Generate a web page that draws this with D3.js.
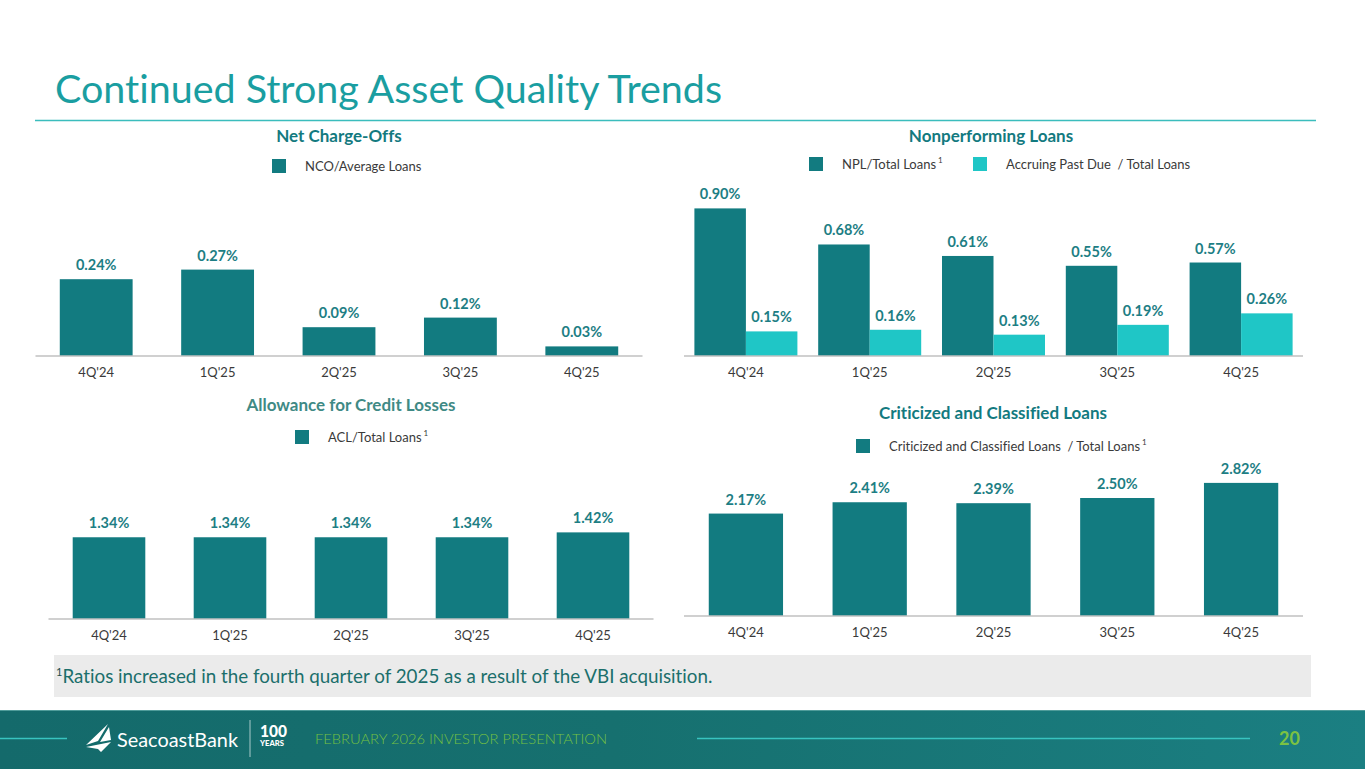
<!DOCTYPE html>
<html>
<head>
<meta charset="utf-8">
<script src="https://cdn.jsdelivr.net/npm/d3@7"></script>
<style>
  html, body { margin: 0; padding: 0; background: #ffffff; }
  svg { display: block; font-family: Lato, "Open Sans", sans-serif; font-variant-ligatures: none; font-feature-settings: "liga" 0, "clig" 0; }
</style>
</head>
<body>
<svg id="chart" width="1365" height="769"></svg>
<script>
// ---------------- DATA ----------------
const categories = ["4Q'24", "1Q'25", "2Q'25", "3Q'25", "4Q'25"];
const ncoValues = [0.24, 0.27, 0.09, 0.12, 0.03];
const nplValues = [0.90, 0.68, 0.61, 0.55, 0.57];
const accruingPastDueValues = [0.15, 0.16, 0.13, 0.19, 0.26];
const aclValues = [1.34, 1.34, 1.34, 1.34, 1.42];
const criticizedValues = [2.17, 2.41, 2.39, 2.50, 2.82];

const pageTitle = "Continued Strong Asset Quality Trends";
const footnoteText = "Ratios increased in the fourth quarter of 2025 as a result of the VBI acquisition.";
const footerText = "FEBRUARY 2026 INVESTOR PRESENTATION";
const pageNumber = "20";

// ---------------- STYLE ----------------
const DARK = "#127b80";
const LIGHT = "#1fc6c6";
const LABEL = "#1d7e84";
const AXIS = "#c0c0c0";
const CAT = "#3a3a3a";
const fmt = v => v.toFixed(2) + "%";

const svg = d3.select("#chart");

// Page title
svg.append("text")
  .attr("x", 55).attr("y", 103)
  .attr("font-size", 38).attr("fill", "#1a9ea1")
  .attr("textLength", 667).attr("lengthAdjust", "spacingAndGlyphs")
  .text(pageTitle);
svg.append("line")
  .attr("x1", 35).attr("x2", 1316).attr("y1", 120.5).attr("y2", 120.5)
  .attr("stroke", "#3bbdbd").attr("stroke-width", 1.5);

// ---------------- helpers ----------------
function chartTitle(x, y, text, color) {
  svg.append("text").attr("x", x).attr("y", y)
    .attr("text-anchor", "middle").attr("font-size", 17).attr("font-weight", 700)
    .attr("fill", color).text(text);
}
function legendItem(x, y, color, text, sup) {
  svg.append("rect").attr("x", x).attr("y", y - 12).attr("width", 14).attr("height", 14).attr("fill", color);
  const t = svg.append("text").attr("x", x + 33).attr("y", y)
    .attr("font-size", 13).attr("fill", CAT).style("white-space", "pre").text(text);
  if (sup) {
    t.append("tspan").attr("dx", 2).attr("dy", -6).attr("font-size", 8).text("1");
  }
}
function styleAxis(ax, x0, x1) {
  ax.select(".domain").attr("stroke", AXIS).attr("stroke-width", 1.5).attr("d", `M${x0},0H${x1}`);
  ax.selectAll("text").attr("font-size", 13).attr("fill", CAT).attr("font-family", "Lato, sans-serif");
}
function singleBarChart(cfg) {
  const x = d3.scaleBand().domain(categories).range([cfg.x0, cfg.x1]).paddingInner(0.4).paddingOuter(0.2);
  const y = d3.scaleLinear().domain(cfg.domain).range([cfg.base, cfg.top]);
  const g = svg.append("g");
  g.selectAll("rect.bar").data(cfg.values).join("rect")
    .attr("class", "bar")
    .attr("x", (d, i) => x(categories[i]))
    .attr("width", x.bandwidth())
    .attr("y", d => y(d))
    .attr("height", d => y(0) - y(d))
    .attr("fill", DARK);
  g.selectAll("text.val").data(cfg.values).join("text")
    .attr("class", "val")
    .attr("x", (d, i) => x(categories[i]) + x.bandwidth() / 2)
    .attr("y", d => y(d) - 9)
    .attr("text-anchor", "middle").attr("font-size", 14.5).attr("font-weight", 700)
    .attr("fill", LABEL).text(fmt);
  const ax = g.append("g").attr("transform", `translate(0,${cfg.base})`)
    .call(d3.axisBottom(x).tickSize(0).tickPadding(12));
  styleAxis(ax, cfg.x0, cfg.x1);
}

// ---------------- Net Charge-Offs ----------------
chartTitle(339, 142, "Net Charge-Offs", "#137a7f");
legendItem(272, 171, DARK, "NCO/Average Loans", false);
singleBarChart({ x0: 35.5, x1: 642.5, base: 356, top: 260, domain: [0, 0.3], values: ncoValues });

// ---------------- Nonperforming Loans ----------------
chartTitle(991, 142, "Nonperforming Loans", "#137a7f");
legendItem(809, 169, DARK, "NPL/Total Loans", true);
legendItem(973, 169, LIGHT, "Accruing Past Due  / Total Loans", false);
(function () {
  const x0 = 684, x1 = 1303, base = 356;
  const x = d3.scaleBand().domain(categories).range([x0, x1]).paddingInner(0.168).paddingOuter(0.084);
  const sub = d3.scaleBand().domain(["npl", "apd"]).range([0, x.bandwidth()]);
  const y = d3.scaleLinear().domain([0, 1.0]).range([base, base - 164]);
  const series = [
    { key: "npl", values: nplValues, color: DARK },
    { key: "apd", values: accruingPastDueValues, color: LIGHT }
  ];
  const g = svg.append("g");
  series.forEach(s => {
    g.selectAll("rect." + s.key).data(s.values).join("rect")
      .attr("class", s.key)
      .attr("x", (d, i) => x(categories[i]) + sub(s.key))
      .attr("width", sub.bandwidth())
      .attr("y", d => y(d))
      .attr("height", d => base - y(d))
      .attr("fill", s.color);
    g.selectAll("text." + s.key).data(s.values).join("text")
      .attr("class", s.key)
      .attr("x", (d, i) => x(categories[i]) + sub(s.key) + sub.bandwidth() / 2)
      .attr("y", d => y(d) - 9)
      .attr("text-anchor", "middle").attr("font-size", 14.5).attr("font-weight", 700)
      .attr("fill", LABEL).text(fmt);
  });
  const ax = g.append("g").attr("transform", `translate(0,${base})`)
    .call(d3.axisBottom(x).tickSize(0).tickPadding(12));
  styleAxis(ax, x0, x1);
})();

// ---------------- Allowance for Credit Losses ----------------
chartTitle(351, 411, "Allowance for Credit Losses", "#3f8a85");
legendItem(295, 442, DARK, "ACL/Total Loans", true);
singleBarChart({ x0: 48.5, x1: 653.5, base: 619, top: 527.5, domain: [0, 1.5], values: aclValues });

// ---------------- Criticized and Classified Loans ----------------
chartTitle(993, 419, "Criticized and Classified Loans", "#137a7f");
legendItem(856, 451, DARK, "Criticized and Classified Loans  / Total Loans", true);
singleBarChart({ x0: 684, x1: 1303, base: 616, top: 474.4, domain: [0, 3], values: criticizedValues });

// ---------------- Footnote ----------------
svg.append("rect").attr("x", 54).attr("y", 655).attr("width", 1257).attr("height", 42).attr("fill", "#ebebeb");
const fn = svg.append("text").attr("x", 56).attr("y", 683).attr("font-size", 18.5).attr("fill", "#1b6f6c");
fn.append("tspan").attr("dy", -7).attr("font-size", 11).attr("fill", "#1f4f4e").text("1");
fn.append("tspan").attr("dy", 7).attr("textLength", 650).attr("lengthAdjust", "spacingAndGlyphs").text(footnoteText);

// ---------------- Footer ----------------
const defs = svg.append("defs");
const grad = defs.append("linearGradient").attr("id", "footGrad").attr("x1", "0").attr("x2", "1").attr("y1", "0").attr("y2", "0");
grad.append("stop").attr("offset", "0%").attr("stop-color", "#146a6b");
grad.append("stop").attr("offset", "45%").attr("stop-color", "#16706f");
grad.append("stop").attr("offset", "100%").attr("stop-color", "#1b7f82");
svg.append("rect").attr("x", 0).attr("y", 710).attr("width", 1365).attr("height", 59).attr("fill", "url(#footGrad)");
svg.append("line").attr("x1", 0).attr("x2", 1365).attr("y1", 710.5).attr("y2", 710.5).attr("stroke", "#4f9c9a").attr("stroke-width", 1);
svg.append("line").attr("x1", 0).attr("x2", 67).attr("y1", 738.5).attr("y2", 738.5).attr("stroke", "#38c4c0").attr("stroke-width", 1.5);
svg.append("line").attr("x1", 697).attr("x2", 1250).attr("y1", 738.5).attr("y2", 738.5).attr("stroke", "#38c4c0").attr("stroke-width", 1.5);
// sail logo
svg.append("path").attr("fill", "#ffffff")
  .attr("d", "M108,724 L86,745 L98,741 Z M109,727 L100,742 L111,740 Z M86,747 L111,742 L101,752 L98,749 Z");
svg.append("text").attr("x", 117).attr("y", 747).attr("font-size", 20).attr("fill", "#ffffff")
  .attr("textLength", 121).attr("lengthAdjust", "spacingAndGlyphs").text("SeacoastBank");
svg.append("line").attr("x1", 250).attr("x2", 250).attr("y1", 720).attr("y2", 757).attr("stroke", "#cfe3e3").attr("stroke-width", 0.8);
svg.append("text").attr("x", 260).attr("y", 737).attr("font-size", 17).attr("font-weight", 900).attr("fill", "#ffffff")
  .attr("textLength", 27).attr("lengthAdjust", "spacingAndGlyphs").text("100");
svg.append("text").attr("x", 260).attr("y", 746).attr("font-size", 7.5).attr("font-weight", 900).attr("fill", "#ffffff")
  .attr("textLength", 24).attr("lengthAdjust", "spacingAndGlyphs").text("YEARS");
svg.append("text").attr("x", 315).attr("y", 744).attr("font-size", 14).attr("font-weight", 300).attr("fill", "#74c043")
  .attr("textLength", 292).attr("lengthAdjust", "spacingAndGlyphs").text(footerText);
svg.append("text").attr("x", 1300).attr("y", 745).attr("text-anchor", "end").attr("font-size", 18).attr("font-weight", 700)
  .attr("fill", "#7cc242").text(pageNumber);
</script>
</body>
</html>
